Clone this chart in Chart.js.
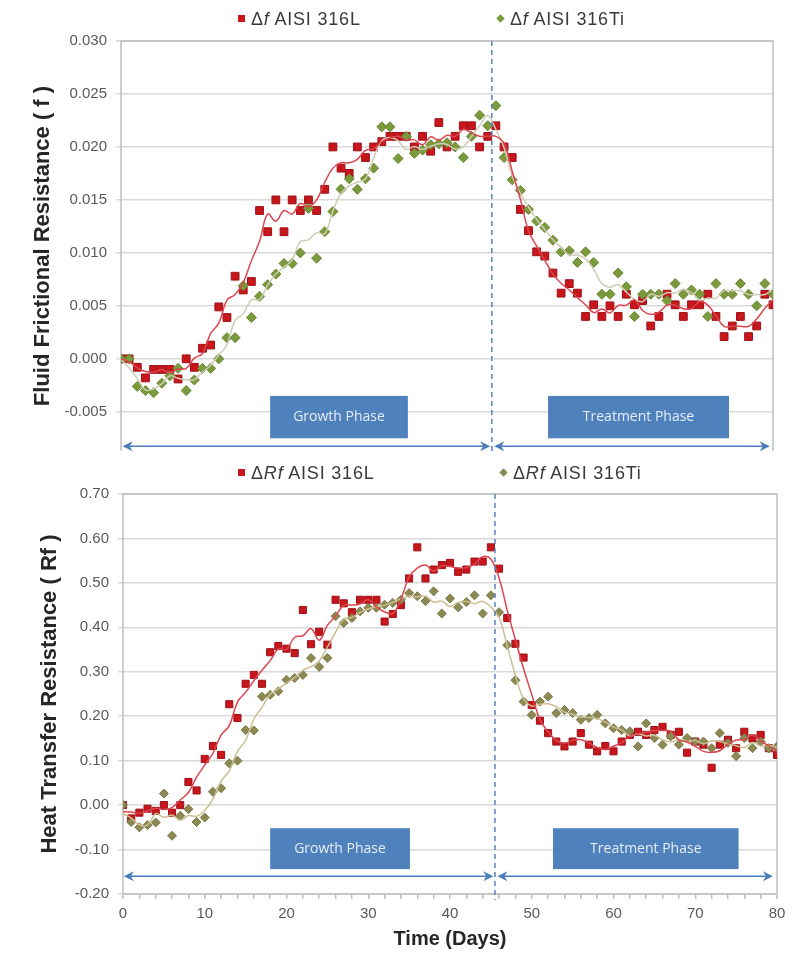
<!DOCTYPE html>
<html>
<head>
<meta charset="utf-8">
<title>Fluid frictional and heat transfer resistance</title>
<script src="https://cdn.jsdelivr.net/npm/chart.js@4.4.1/dist/chart.umd.min.js"></script>
<style>
  body { margin: 0; background: #fff; }
  .panel { position: absolute; left: 0; width: 805px; }
  #panel-f { top: 0; height: 469px; }
  #panel-rf { top: 455px; height: 502px; }
  canvas { position: absolute; left: 0; top: 0; }
  .legend { position: absolute; left: 0; top: 0; width: 805px; font: 18px "Liberation Sans", Arial, sans-serif; color: #3a3a3a; letter-spacing: 0.8px; }
  .legend .item { position: absolute; white-space: nowrap; line-height: 20px; }
  .legend i { display: inline-block; width: 7px; height: 7px; margin-right: 6px; vertical-align: middle; position: relative; top: -2px; }
  .legend em { font-style: italic; }
</style>
</head>
<body>
<div class="panel" id="panel-f">
  <canvas id="chart-f" width="805" height="469"></canvas>
  <div class="legend" id="legend-f"></div>
</div>
<div class="panel" id="panel-rf">
  <canvas id="chart-rf" width="805" height="502"></canvas>
  <div class="legend" id="legend-rf"></div>
</div>
<script>
// --- datos (un punto por día) ---
const days = [0, 1, 2, 3, 4, 5, 6, 7, 8, 9, 10, 11, 12, 13, 14, 15, 16, 17, 18, 19,
  20, 21, 22, 23, 24, 25, 26, 27, 28, 29, 30, 31, 32, 33, 34, 35, 36, 37, 38, 39,
  40, 41, 42, 43, 44, 45, 46, 47, 48, 49, 50, 51, 52, 53, 54, 55, 56, 57, 58, 59,
  60, 61, 62, 63, 64, 65, 66, 67, 68, 69, 70, 71, 72, 73, 74, 75, 76, 77, 78, 79, 80];

// Δf AISI 316L
const friction316L = [0, 0, -0.0008, -0.0018, -0.001, -0.001, -0.001, -0.0019, 0.0, -0.0008,
  0.001, 0.0013, 0.0049, 0.0039, 0.0078, 0.0065, 0.0073, 0.014, 0.012, 0.015,
  0.012, 0.015, 0.014, 0.015, 0.014, 0.016, 0.020, 0.018, 0.0175, 0.020,
  0.019, 0.020, 0.0205, 0.021, 0.021, 0.021, 0.020, 0.021, 0.0196, 0.0223,
  0.020, 0.021, 0.022, 0.022, 0.020, 0.021, 0.022, 0.020, 0.019, 0.0141,
  0.0121, 0.0101, 0.0097, 0.0081, 0.0062, 0.0071, 0.0062, 0.004, 0.0051, 0.004,
  0.005, 0.004, 0.0061, 0.0051, 0.0055, 0.0031, 0.004, 0.0061, 0.0051, 0.004,
  0.0051, 0.0051, 0.0061, 0.004, 0.0021, 0.0031, 0.004, 0.0021, 0.0031, 0.0061,
  0.0051];

// Δf AISI 316Ti
const friction316Ti = [0, 0, -0.0026, -0.003, -0.0032, -0.0023, -0.0016, -0.0009, -0.003, -0.002,
  -0.0009, -0.0009, 0, 0.002, 0.002, 0.0069, 0.0039, 0.0059, 0.007, 0.008,
  0.009, 0.009, 0.010, 0.0142, 0.0095, 0.012, 0.0139, 0.016, 0.017, 0.016,
  0.017, 0.018, 0.0219, 0.0219, 0.0189, 0.021, 0.0194, 0.0197, 0.0202, 0.0203,
  0.0204, 0.020, 0.019, 0.021, 0.023, 0.022, 0.0239, 0.019, 0.0169, 0.0159,
  0.0141, 0.013, 0.0124, 0.0112, 0.0101, 0.0102, 0.0091, 0.0101, 0.0091, 0.0061,
  0.0061, 0.0081, 0.0068, 0.004, 0.0061, 0.0061, 0.0061, 0.0055, 0.0071, 0.0061,
  0.0065, 0.0061, 0.004, 0.0071, 0.0061, 0.0061, 0.0071, 0.0061, 0.005, 0.0071,
  0.0061];

// ΔRf AISI 316L
const heat316L = [0.00, -0.03, -0.017, -0.008, -0.013, 0.00, -0.017, 0.00, 0.052, 0.033,
  0.104, 0.133, 0.113, 0.227, 0.196, 0.273, 0.293, 0.273, 0.344, 0.358,
  0.352, 0.342, 0.439, 0.362, 0.39, 0.361, 0.462, 0.454, 0.434, 0.462,
  0.462, 0.462, 0.413, 0.43, 0.45, 0.51, 0.58, 0.51, 0.53, 0.54,
  0.545, 0.525, 0.53, 0.548, 0.548, 0.58, 0.532, 0.421, 0.363, 0.332,
  0.225, 0.19, 0.162, 0.143, 0.132, 0.143, 0.162, 0.136, 0.121, 0.133,
  0.121, 0.143, 0.158, 0.165, 0.158, 0.169, 0.176, 0.158, 0.165, 0.118,
  0.143, 0.136, 0.084, 0.136, 0.147, 0.128, 0.165, 0.15, 0.158, 0.128,
  0.113];

// ΔRf AISI 316Ti
const heat316Ti = [0.00, -0.038, -0.05, -0.045, -0.039, 0.026, -0.069, -0.024, -0.009, -0.038,
  -0.028, 0.03, 0.038, 0.094, 0.10, 0.169, 0.168, 0.244, 0.248, 0.256,
  0.282, 0.286, 0.293, 0.331, 0.311, 0.331, 0.425, 0.41, 0.421, 0.436,
  0.444, 0.444, 0.451, 0.455, 0.462, 0.477, 0.47, 0.459, 0.481, 0.431,
  0.465, 0.445, 0.457, 0.472, 0.431, 0.472, 0.434, 0.36, 0.281, 0.233,
  0.203, 0.233, 0.244, 0.207, 0.214, 0.207, 0.192, 0.196, 0.203, 0.184,
  0.173, 0.169, 0.166, 0.132, 0.184, 0.151, 0.136, 0.155, 0.136, 0.151,
  0.143, 0.143, 0.128, 0.162, 0.14, 0.11, 0.151, 0.128, 0.143, 0.128,
  0.132];

// etiquetas de los ejes
const frictionTicks = [-0.005, 0, 0.005, 0.010, 0.015, 0.020, 0.025, 0.030];
const heatTicks = [-0.20, -0.10, 0.00, 0.10, 0.20, 0.30, 0.40, 0.50, 0.60, 0.70];
const dayLabels = [0, 10, 20, 30, 40, 50, 60, 70, 80];
const dayMinorTicks = days.filter(d => d % 2 === 0);

// línea de tendencia: media móvil de 3 puntos (como la del original)
function movingAverage(values, span) {
  const half = Math.floor(span / 2);
  return values.map((_, i) => {
    const win = values.slice(Math.max(0, i - half), i + half + 1);
    return win.reduce((a, b) => a + b, 0) / win.length;
  });
}

Chart.defaults.font.family = '"Liberation Sans", Arial, sans-serif';
Chart.defaults.color = '#595959';

const RED = '#c8161d';
const RED_EDGE = '#9e1016';

function points(xs, ys) { return xs.map((x, i) => ({ x, y: ys[i] })); }

function scatterSet(label, ys, color, edge, style, radius, order) {
  return {
    type: 'scatter', label, data: points(days, ys), order,
    pointStyle: style, pointRadius: radius, pointHoverRadius: radius,
    pointBackgroundColor: color, pointBorderColor: edge, pointBorderWidth: 1,
    showLine: false, inLegend: true
  };
}

function trendSet(ys, color, order) {
  return {
    type: 'line', label: 'trend', data: points(days, movingAverage(ys, 3)), order,
    borderColor: color, borderWidth: 1.5, pointRadius: 0, tension: 0.4, fill: false
  };
}

// flechas punta a la izquierda (dir 1) o a la derecha (dir -1)
function arrowHead(ctx, tipX, yy, dir) {
  ctx.beginPath();
  ctx.moveTo(tipX, yy);
  ctx.lineTo(tipX + dir * 10, yy - 5);
  ctx.lineTo(tipX + dir * 7, yy);
  ctx.lineTo(tipX + dir * 10, yy + 5);
  ctx.closePath();
  ctx.fill();
}

// marco, línea de separación de fases, flechas y cajas
const phasePlugin = {
  id: 'phases',
  beforeDatasetsDraw(chart, args, o) {
    const { ctx, chartArea: a } = chart;
    ctx.save();
    ctx.strokeStyle = '#bfbfbf';
    ctx.lineWidth = 1.5;
    ctx.beginPath();
    ctx.moveTo(a.left, a.bottom);
    ctx.lineTo(a.left, a.top);
    ctx.lineTo(a.right, a.top);
    ctx.lineTo(a.right, a.bottom);
    if (o.frameBottom) ctx.lineTo(a.left, a.bottom);
    ctx.stroke();
    ctx.restore();
  },
  afterDatasetsDraw(chart, args, o) {
    const { ctx, chartArea: a, scales: { x, y } } = chart;
    ctx.save();
    const by0 = y.getPixelForValue(o.boxY[0]);
    const by1 = y.getPixelForValue(o.boxY[1]);
    o.boxes.forEach(b => {
      const x0 = x.getPixelForValue(b.x[0]);
      const x1 = x.getPixelForValue(b.x[1]);
      ctx.fillStyle = '#4f81bd';
      ctx.fillRect(x0, by0, x1 - x0, by1 - by0);
      ctx.fillStyle = '#e6edf7';
      ctx.font = '14px "Open Sans", sans-serif';
      ctx.textAlign = 'center';
      ctx.textBaseline = 'middle';
      ctx.fillText(b.text, (x0 + x1) / 2, (by0 + by1) / 2);
    });
    const sx = x.getPixelForValue(o.split);
    ctx.strokeStyle = '#5b7fbf';
    ctx.lineWidth = 1.5;
    ctx.setLineDash([5, 4]);
    ctx.beginPath();
    ctx.moveTo(sx, a.top);
    ctx.lineTo(sx, a.bottom + o.splitOverhang);
    ctx.stroke();
    ctx.setLineDash([]);
    const ay = y.getPixelForValue(o.arrowY);
    ctx.strokeStyle = '#4a7ebb';
    ctx.fillStyle = '#4a7ebb';
    o.arrows.forEach(([p0, p1]) => {
      const x0 = x.getPixelForValue(p0);
      const x1 = x.getPixelForValue(p1);
      ctx.beginPath();
      ctx.moveTo(x0 + 6, ay);
      ctx.lineTo(x1 - 6, ay);
      ctx.stroke();
      arrowHead(ctx, x0, ay, 1);
      arrowHead(ctx, x1, ay, -1);
    });
    ctx.restore();
  }
};

function yAxis(ticksArr, min, max, digits, width, title, titlePad) {
  return {
    type: 'linear', min, max,
    afterBuildTicks: s => { s.ticks = ticksArr.map(v => ({ value: v })); },
    afterFit: s => { s.width = width; },
    ticks: { font: { size: 15 }, padding: 9, callback: v => Number(v).toFixed(digits) },
    grid: { color: '#d9d9d9', lineWidth: 1.5, tickLength: 5 },
    border: { display: false },
    title: { display: true, text: title, color: '#262626', font: { size: 22, weight: 'bold' }, padding: { top: titlePad } }
  };
}

function buildLegend(chart, el, lefts, top) {
  chart.data.datasets.filter(d => d.inLegend).forEach((d, i) => {
    const item = document.createElement('span');
    item.className = 'item';
    item.style.left = lefts[i] + 'px';
    item.style.top = top + 'px';
    const mk = document.createElement('i');
    mk.style.background = d.pointBackgroundColor;
    if (d.pointStyle === 'rectRot') mk.style.transform = 'rotate(45deg) scale(0.85)';
    const words = d.label.slice(1).split(' ');
    const em = document.createElement('em');
    em.textContent = words[0];
    item.append(mk, 'Δ', em, ' ' + words.slice(1).join(' '));
    el.appendChild(item);
  });
}

// --- gráfico superior: resistencia de fricción ---
const chartF = new Chart(document.getElementById('chart-f'), {
  type: 'scatter',
  data: {
    datasets: [
      scatterSet('Δf AISI 316L', friction316L, RED, RED_EDGE, 'rect', 5.5, 3),
      scatterSet('Δf AISI 316Ti', friction316Ti, '#7a9a3c', '#6a8632', 'rectRot', 5, 2),
      trendSet(friction316Ti, '#cfcdb6', 1),
      trendSet(friction316L, '#dc4650', 0)
    ]
  },
  options: {
    responsive: false, animation: false, devicePixelRatio: 1,
    layout: { padding: { top: 41, right: 32, bottom: 0, left: 0 } },
    plugins: {
      legend: { display: false }, tooltip: { enabled: false },
      phases: {
        split: 45.5, arrowY: -0.00825, arrows: [[0.2, 45.3], [45.8, 79.6]],
        boxY: [-0.0035, -0.0075],
        boxes: [{ text: 'Growth Phase', x: [18.3, 35.2] }, { text: 'Treatment Phase', x: [52.4, 74.6] }],
        frameBottom: false, splitOverhang: 0
      }
    },
    scales: {
      x: { type: 'linear', min: 0, max: 80, display: false },
      y: yAxis(frictionTicks, -0.0087, 0.030, 3, 121, 'Fluid Frictional Resistance ( f )', 30)
    }
  },
  plugins: [phasePlugin]
});
buildLegend(chartF, document.getElementById('legend-f'), [238, 497], 9);

// --- gráfico inferior: resistencia de transferencia de calor ---
const chartRf = new Chart(document.getElementById('chart-rf'), {
  type: 'scatter',
  data: {
    datasets: [
      scatterSet('ΔRf AISI 316L', heat316L, RED, RED_EDGE, 'rect', 5, 3),
      scatterSet('ΔRf AISI 316Ti', heat316Ti, '#8c8a52', '#7a7846', 'rectRot', 4.5, 2),
      trendSet(heat316Ti, '#cbbf92', 1),
      trendSet(heat316L, '#dc4650', 0)
    ]
  },
  options: {
    responsive: false, animation: false, devicePixelRatio: 1,
    layout: { padding: { top: 39, right: 28, bottom: 0, left: 0 } },
    plugins: {
      legend: { display: false }, tooltip: { enabled: false },
      phases: {
        split: 45.5, arrowY: -0.160, arrows: [[0.1, 45.3], [45.8, 79.5]],
        boxY: [-0.052, -0.144],
        boxes: [{ text: 'Growth Phase', x: [18.0, 35.1] }, { text: 'Treatment Phase', x: [52.6, 75.3] }],
        frameBottom: true, splitOverhang: 6
      }
    },
    scales: {
      x: {
        type: 'linear', min: 0, max: 80,
        afterBuildTicks: s => { s.ticks = dayMinorTicks.map(v => ({ value: v })); },
        afterFit: s => { s.height = 63; },
        ticks: { autoSkip: false, maxRotation: 0, font: { size: 15 }, padding: 6,
                 callback: v => dayLabels.includes(v) ? String(v) : '' },
        grid: { drawOnChartArea: false, drawTicks: true, tickLength: 5, color: '#bfbfbf', lineWidth: 1.5 },
        border: { display: false },
        title: { display: true, text: 'Time (Days)', color: '#262626', font: { size: 20, weight: 'bold' }, padding: { bottom: 6 } }
      },
      y: yAxis(heatTicks, -0.20, 0.70, 2, 123, 'Heat Transfer Resistance ( Rf )', 37)
    }
  },
  plugins: [phasePlugin]
});
buildLegend(chartRf, document.getElementById('legend-rf'), [238, 500], 8);
</script>
</body>
</html>
